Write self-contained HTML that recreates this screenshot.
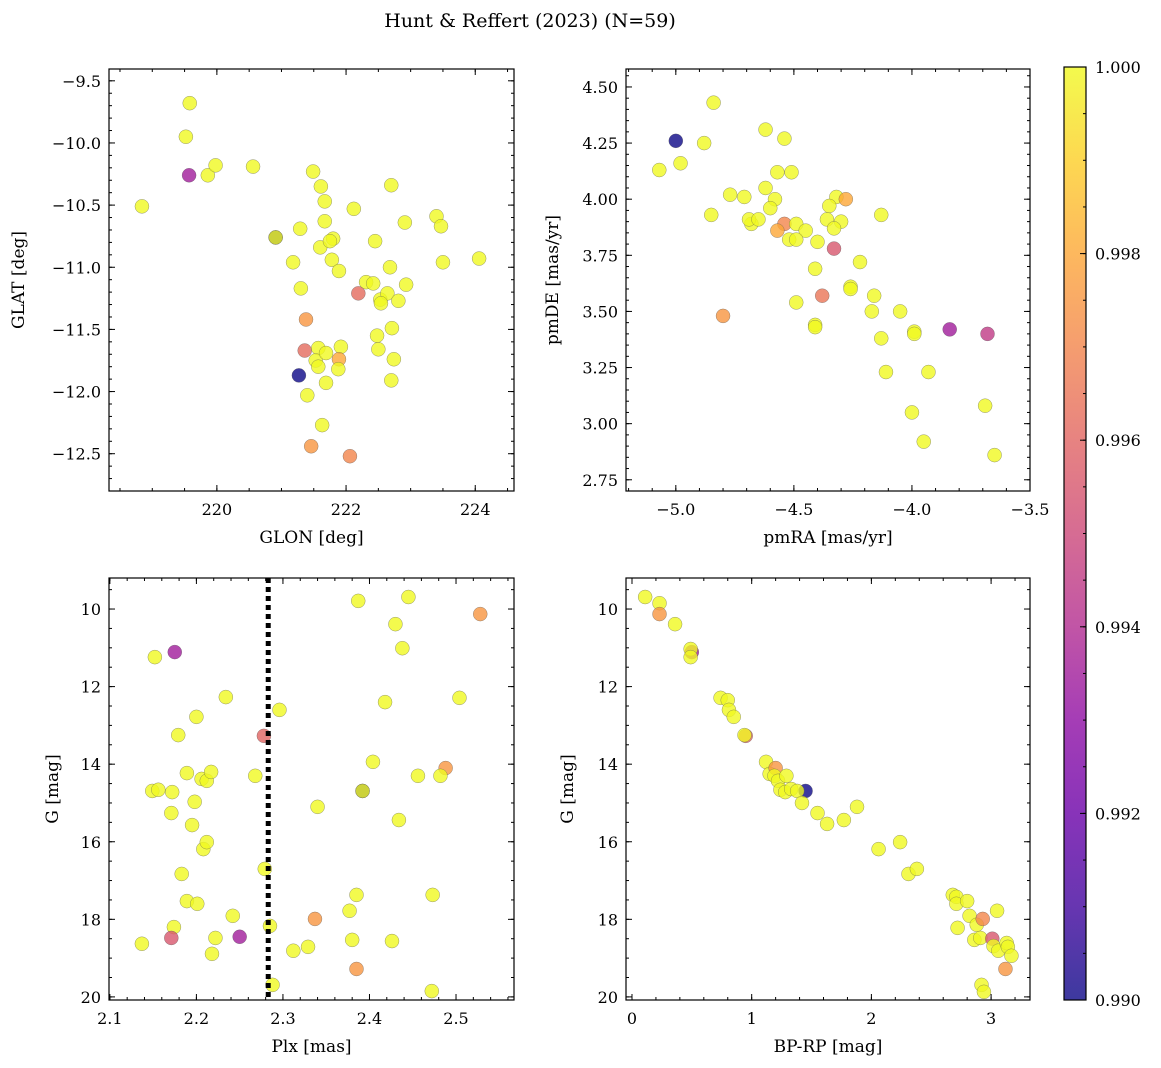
<!DOCTYPE html>
<html><head><meta charset="utf-8"><style>
body{margin:0;background:#fff}
svg{display:block;font-family:"DejaVu Serif","Liberation Serif",serif}
</style></head><body>
<svg id="c" width="1161" height="1068" viewBox="0 0 1161 1068" xmlns="http://www.w3.org/2000/svg">
<text x="530" y="27" font-size="19" text-anchor="middle">Hunt &amp; Reffert (2023) (N=59)</text>
</svg>
<script>
// Panel 1: GLON vs GLAT
const p1x=[220.91,218.84,219.58,219.52,219.57,219.86,219.98,220.56,220.91,221.49,221.61,221.67,221.67,221.29,221.18,221.30,221.60,221.80,221.75,221.78,221.89,222.12,222.70,222.91,223.40,223.47,222.45,222.68,223.50,224.06,222.31,222.19,222.42,222.53,222.64,222.54,222.93,222.81,222.71,222.48,222.50,222.74,222.70,221.92,221.38,221.36,221.27,221.57,221.53,221.57,221.69,221.89,221.88,221.69,221.40,221.63,221.46,222.06];
const p1y=[-10.76,-10.51,-9.68,-9.95,-10.26,-10.26,-10.18,-10.19,-10.76,-10.23,-10.35,-10.47,-10.63,-10.69,-10.96,-11.17,-10.84,-10.77,-10.79,-10.94,-11.03,-10.53,-10.34,-10.64,-10.59,-10.67,-10.79,-11.00,-10.96,-10.93,-11.12,-11.21,-11.13,-11.26,-11.21,-11.29,-11.14,-11.27,-11.49,-11.55,-11.66,-11.74,-11.91,-11.64,-11.42,-11.67,-11.87,-11.65,-11.75,-11.80,-11.69,-11.74,-11.82,-11.93,-12.03,-12.27,-12.44,-12.52];
const p1c=[0.990,1,1,1,0.9935,1,1,1,1,1,1,1,1,1,1,1,1,1,1,1,1,1,1,1,1,1,1,1,1,1,1,0.9962,1,1,1,1,1,1,1,1,1,1,1,1,0.9975,0.9962,0.990,1,1,1,1,0.998,1,1,1,1,0.9975,0.997];
// Panel 2: pmRA vs pmDE
const p2x=[-4.84,-5.00,-5.07,-4.98,-4.88,-4.62,-4.54,-4.51,-4.57,-4.62,-4.77,-4.71,-4.58,-4.60,-4.85,-4.68,-4.69,-4.65,-4.54,-4.57,-4.49,-4.45,-4.52,-4.49,-4.40,-4.32,-4.28,-4.35,-4.36,-4.30,-4.33,-4.13,-4.33,-4.22,-4.41,-4.26,-4.26,-4.80,-4.49,-4.38,-4.16,-4.17,-4.05,-4.41,-4.41,-3.99,-3.99,-4.13,-3.84,-3.68,-4.11,-3.93,-4.00,-3.69,-3.95,-3.65];
const p2y=[4.43,4.26,4.13,4.16,4.25,4.31,4.27,4.12,4.12,4.05,4.02,4.01,4.00,3.96,3.93,3.89,3.91,3.91,3.89,3.86,3.89,3.86,3.82,3.82,3.81,4.01,4.00,3.97,3.91,3.90,3.87,3.93,3.78,3.72,3.69,3.61,3.60,3.48,3.54,3.57,3.57,3.50,3.50,3.44,3.43,3.41,3.40,3.38,3.42,3.40,3.23,3.23,3.05,3.08,2.92,2.86];
const p2c=[1,0.990,1,1,1,1,1,1,1,1,1,1,1,1,1,1,1,1,0.997,0.998,1,1,1,1,1,1,0.998,1,1,1,1,1,0.9955,1,1,1,1,0.9975,1,0.9965,1,1,1,1,1,1,1,1,0.9935,0.9945,1,1,1,1,1,1];
// Panel 3: Plx vs G
const p3x=[2.392,2.137,2.152,2.175,2.179,2.149,2.156,2.172,2.189,2.171,2.198,2.195,2.206,2.212,2.217,2.208,2.212,2.200,2.234,2.183,2.189,2.201,2.174,2.171,2.222,2.218,2.242,2.250,2.268,2.278,2.279,2.296,2.285,2.288,2.312,2.329,2.340,2.337,2.387,2.418,2.404,2.392,2.430,2.438,2.445,2.528,2.504,2.488,2.456,2.482,2.434,2.377,2.385,2.473,2.380,2.426,2.385,2.472];
const p3y=[14.69,18.63,11.24,11.11,13.25,14.69,14.66,14.72,14.23,15.26,14.97,15.57,14.38,14.43,14.20,16.19,16.01,12.78,12.27,16.83,17.53,17.60,18.20,18.48,18.48,18.89,17.91,18.45,14.30,13.27,16.70,12.60,18.17,19.69,18.81,18.71,15.10,17.99,9.79,12.40,13.94,14.69,10.39,11.01,9.69,10.13,12.29,14.10,14.30,14.30,15.44,17.78,17.37,17.37,18.53,18.56,19.28,19.85];
const p3c=[0.990,1,1,0.9935,1,1,1,1,1,1,1,1,1,1,1,1,1,1,1,1,1,1,1,0.9955,1,1,1,0.9935,1,0.996,1,1,1,1,1,1,1,0.9975,1,1,1,1,1,1,1,0.9975,1,0.9975,1,1,1,1,1,1,1,1,0.9975,1];
const vline=2.283;
// Panel 4: BP-RP vs G
const p4x=[0.11,0.23,0.23,0.36,0.50,0.49,0.49,0.74,0.80,0.81,0.85,0.95,0.94,1.12,1.15,1.20,1.19,1.22,1.29,1.24,1.28,1.33,1.45,1.38,1.42,1.55,1.63,1.77,1.88,2.06,2.24,2.31,2.38,2.68,2.71,2.71,2.80,2.72,2.82,2.88,2.93,3.05,2.86,2.91,3.01,3.02,3.06,3.13,3.14,3.17,3.12,2.92,2.94];
const p4y=[9.69,9.85,10.13,10.39,11.11,11.03,11.24,12.29,12.35,12.60,12.78,13.27,13.25,13.94,14.25,14.10,14.30,14.43,14.30,14.66,14.72,14.64,14.69,14.69,15.00,15.26,15.54,15.44,15.10,16.19,16.01,16.83,16.70,17.37,17.42,17.60,17.53,18.22,17.91,18.14,17.99,17.78,18.53,18.48,18.50,18.69,18.81,18.61,18.71,18.94,19.28,19.69,19.87];
const p4c=[1,1,0.9975,1,0.9935,1,1,1,1,1,1,0.996,1,1,1,0.9975,1,1,1,1,1,1,0.990,1,1,1,1,1,1,1,1,1,1,1,1,1,1,1,1,1,0.997,1,1,1,0.9955,1,1,1,1,1,0.9975,1,1];
const cbTicks=["0.990","0.992","0.994","0.996","0.998","1.000"];

const NS="http://www.w3.org/2000/svg";
const svg=document.getElementById('c');
function mk(tag,attrs,parent){const e=document.createElementNS(NS,tag);for(const k in attrs)e.setAttribute(k,attrs[k]);(parent||svg).appendChild(e);return e;}
const stops=[[13,8,135],[65,4,157],[106,0,168],[143,13,164],[177,42,144],[204,71,120],[225,100,98],[242,132,75],[252,166,54],[252,206,37],[240,249,33]];
function plasma(t){t=Math.max(0,Math.min(1,t));const f=t*10,i=Math.min(9,Math.floor(f)),r=f-i;const a=stops[i],b=stops[i+1];return `rgb(${a.map((v,k)=>Math.round(v+(b[k]-v)*r)).join(',')})`;}
function cnorm(c){return (c-0.990)/0.010;}
function fmt(v,d){const s=Math.abs(v).toFixed(d);return (v<-1e-9?"\u2212":"")+s;}

function panel(name,L,T,R,B,x0,x1,y0,y1,xs,ys,cs,xmaj,xmin,xd,ymaj,ymin,yd,xlabel,ylabel,ylx){
  const g=mk('g',{});
  
  
  const sx=v=>L+(v-x0)/(x1-x0)*(R-L), sy=v=>T+(v-y0)/(y1-y0)*(B-T);
  const pts=mk('g',{},g);
  
  
  for(let i=0;i<xs.length;i++){
    const c=mk('circle',{cx:sx(xs[i]),cy:sy(ys[i]),r:7,fill:plasma(cnorm(cs[i])),'fill-opacity':0.8,stroke:'#555','stroke-opacity':0.6,'stroke-width':0.5},pts);
    
    
  }
  const frame=mk('rect',{x:L,y:T,width:R-L,height:B-T,fill:'none',stroke:'#000','stroke-width':1.2},g);
  
  
  const lo=Math.min(x0,x1),hi=Math.max(x0,x1);
  for(let v=Math.ceil(lo/xmin-1e-6)*xmin;v<=hi+1e-9;v+=xmin){const p=sx(v);mk('line',{x1:p,x2:p,y1:B,y2:B-3,stroke:'#000'},g);mk('line',{x1:p,x2:p,y1:T,y2:T+3,stroke:'#000'},g);}
  for(let v=Math.ceil(lo/xmaj-1e-6)*xmaj;v<=hi+1e-9;v+=xmaj){const p=sx(v);mk('line',{x1:p,x2:p,y1:B,y2:B-6,stroke:'#000'},g);mk('line',{x1:p,x2:p,y1:T,y2:T+6,stroke:'#000'},g);
    const t=mk('text',{x:p,y:B+24,'font-size':16,'text-anchor':'middle'},g);t.textContent=fmt(v,xd);
    
    }
  const ylo=Math.min(y0,y1),yhi=Math.max(y0,y1);
  for(let v=Math.ceil(ylo/ymin-1e-6)*ymin;v<=yhi+1e-9;v+=ymin){const p=sy(v);mk('line',{x1:L,x2:L+3,y1:p,y2:p,stroke:'#000'},g);mk('line',{x1:R,x2:R-3,y1:p,y2:p,stroke:'#000'},g);}
  for(let v=Math.ceil(ylo/ymaj-1e-6)*ymaj;v<=yhi+1e-9;v+=ymaj){const p=sy(v);mk('line',{x1:L,x2:L+6,y1:p,y2:p,stroke:'#000'},g);mk('line',{x1:R,x2:R-6,y1:p,y2:p,stroke:'#000'},g);
    const t=mk('text',{x:L-8,y:p+6,'font-size':16,'text-anchor':'end'},g);t.textContent=fmt(v,yd);
    
    }
  const xl=mk('text',{x:(L+R)/2,y:B+52,'font-size':17,'text-anchor':'middle'},g);xl.textContent=xlabel;
  
  
  const yl=mk('text',{x:0,y:0,'font-size':17,'text-anchor':'middle',transform:`translate(${ylx},${(T+B)/2}) rotate(-90)`},g);yl.textContent=ylabel;
  
  
  return {sx,sy,g};
}
panel('glon-glat-panel',109,69,514,491,218.33,224.6,-9.405,-12.80,p1x,p1y,p1c,2,0.5,0,0.5,0.1,1,'GLON [deg]','GLAT [deg]',24);
panel('pm-panel',626,69,1030,491,-5.211,-3.5,4.58,2.70,p2x,p2y,p2c,0.5,0.1,1,0.25,0.05,2,'pmRA [mas/yr]','pmDE [mas/yr]',558);
const P3=panel('plx-g-panel',109,578,514,1000,2.099,2.567,9.2,20.08,p3x,p3y,p3c,0.1,0.02,1,2,0.5,0,'Plx [mas]','G [mag]',58);
const vl=mk('line',{x1:P3.sx(vline),x2:P3.sx(vline),y1:578,y2:1000,stroke:'#000','stroke-width':5,'stroke-dasharray':'5,4'});


panel('cmd-panel',626,578,1030,1000,-0.05,3.325,9.2,20.08,p4x,p4y,p4c,1,0.2,0,2,0.5,0,'BP-RP [mag]','G [mag]',573);

// colorbar
const cb=mk('g',{});


const defs=mk('defs',{},cb);
const lg=mk('linearGradient',{id:'pl',x1:0,y1:1,x2:0,y2:0},defs);
stops.forEach((s,i)=>mk('stop',{offset:i/10,'stop-color':`rgb(${s.map(v=>Math.round(v*0.8+51)).join(',')})`},lg));
mk('rect',{x:1064,y:67,width:22,height:933,fill:'url(#pl)',stroke:'#000','stroke-width':1.2},cb);
const cy=v=>1000-(v-0.990)/0.010*933;
for(let v=0.990;v<=1.00001;v+=0.0005){mk('line',{x1:1086,x2:1083,y1:cy(v),y2:cy(v),stroke:'#000'},cb);}
cbTicks.forEach(s=>{const v=parseFloat(s),p=cy(v);mk('line',{x1:1086,x2:1080,y1:p,y2:p,stroke:'#000'},cb);
  const t=mk('text',{x:1095,y:p+6,'font-size':16},cb);t.textContent=s;
  
  });
</script>
</body></html>
